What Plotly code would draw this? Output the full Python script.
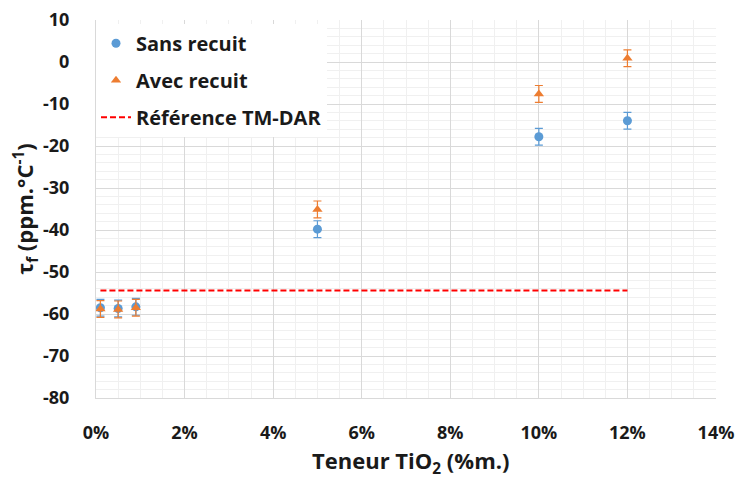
import plotly.graph_objects as go

teneur = [0.001, 0.005, 0.009, 0.05, 0.10, 0.12]
sans_recuit = [-58.5, -58.7, -58.3, -39.8, -17.8, -14.0]
avec_recuit = [-58.8, -58.9, -58.5, -35.1, -7.6, 0.9]
err_sans = [2, 2, 2, 2, 2, 2]
err_avec = [2, 2, 2, 2, 2, 2]
ref_x = [0.001, 0.12]
ref_y = [-54.4, -54.4]
y_tickvals = [10, 0, -10, -20, -30, -40, -50, -60, -70, -80]
y_ticktext = ["10", "0", "-10", "-20", "-30", "-40", "-50", "-60", "-70", "-80"]
x_tickvals = [0, 0.02, 0.04, 0.06, 0.08, 0.10, 0.12, 0.14]
x_ticktext = ["0%", "2%", "4%", "6%", "8%", "10%", "12%", "14%"]
x_title = "Teneur TiO<sub>2</sub> (%m.)"
y_title = "τ<sub>f</sub> (ppm.°C<sup>-1</sup>)"

FONT = "Open Sans"
fig = go.Figure()
fig.add_trace(go.Scatter(
    x=ref_x, y=ref_y, mode="lines", name="Référence TM-DAR",
    line=dict(color="#FF0000", width=2, dash="6px,3px"),
    legendrank=3, legendgroup="c"))
fig.add_trace(go.Scatter(
    x=teneur, y=sans_recuit, mode="markers", name="Sans recuit",
    marker=dict(symbol="circle", size=9, color="#5B9BD5"),
    error_y=dict(type="data", array=err_sans, color="#5B9BD5", thickness=1.2, width=4),
    legendrank=1, legendgroup="a"))
fig.add_trace(go.Scatter(
    x=teneur, y=avec_recuit, mode="markers", name="Avec recuit",
    marker=dict(symbol="triangle-up", size=9, color="#ED7D31"),
    error_y=dict(type="data", array=err_avec, color="#ED7D31", thickness=1.2, width=4),
    legendrank=2, legendgroup="b"))

fig.add_annotation(text=x_title, xref="paper", yref="paper", x=0.507, y=-0.17,
                   xanchor="center", yanchor="middle", showarrow=False,
                   font=dict(family=FONT, size=22, color="#1a1a1a", weight="bold"))

fig.update_layout(
    width=740, height=481,
    margin=dict(l=96, r=24, t=20, b=83),
    paper_bgcolor="white", plot_bgcolor="white",
    font=dict(family=FONT, size=18, color="#1a1a1a"),
    showlegend=True,
    legend=dict(x=0.0, y=0.99, xanchor="left", yanchor="top",
                bgcolor="white", font=dict(family=FONT, size=20, color="#1a1a1a", weight="bold"),
                tracegroupgap=8, itemwidth=30),
    xaxis=dict(range=[0, 0.14], tickvals=x_tickvals, ticktext=x_ticktext,
               showgrid=True, gridcolor="#d9d9d9", gridwidth=1,
               minor=dict(dtick=0.005, showgrid=True, gridcolor="#f0f0f0"),
               zeroline=False, showline=True, linecolor="#d9d9d9",
               ticks="", ticklabelstandoff=18, automargin=False, ticklabeloverflow="allow",
               tickfont=dict(family=FONT, size=18, weight="bold")),
    yaxis=dict(range=[-80, 10], tickvals=y_tickvals, ticktext=y_ticktext,
               showgrid=True, gridcolor="#d9d9d9", gridwidth=1,
               minor=dict(dtick=2, showgrid=True, gridcolor="#f0f0f0"),
               zeroline=False, showline=True, linecolor="#d9d9d9",
               ticks="", ticklabelstandoff=22, automargin=False, ticklabeloverflow="allow",
               tickfont=dict(family=FONT, size=18, weight="bold"),
               title=dict(text=y_title, standoff=0,
                          font=dict(family=FONT, size=22, weight="bold"))),
)
fig.write_html("out.html", config={"displayModeBar": False},
               post_script="document.body.style.margin='0';")
